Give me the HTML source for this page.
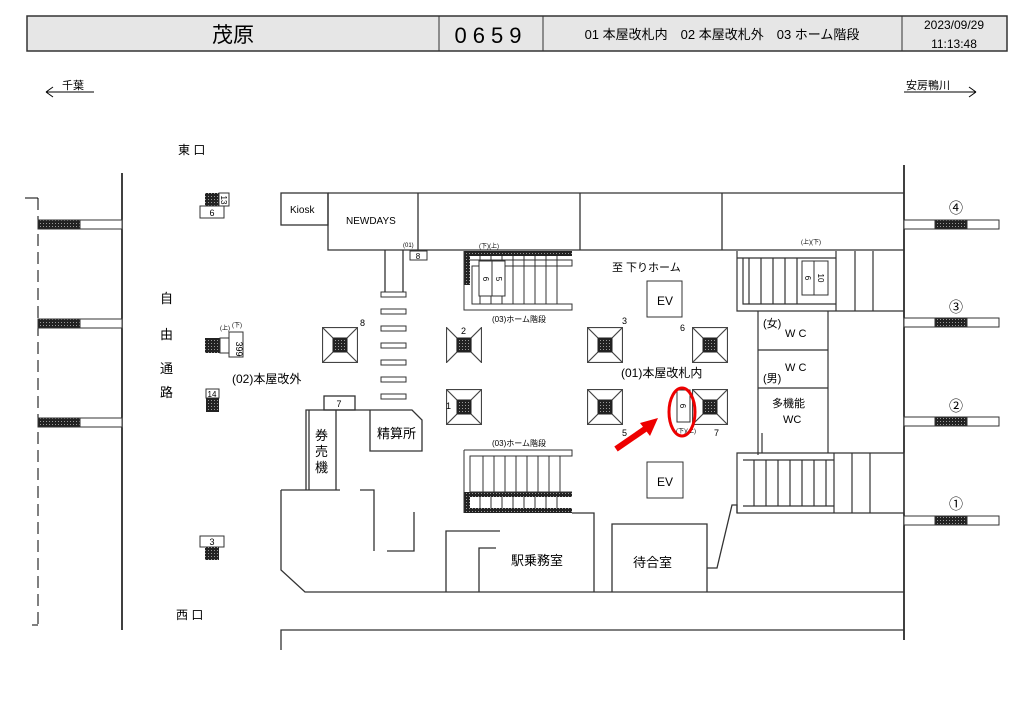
<!DOCTYPE html>
<html><head><meta charset="utf-8"><style>
body{margin:0;background:#fff;}
svg{display:block;font-family:"Liberation Sans","Noto Sans CJK JP",sans-serif;}
</style></head><body>
<svg width="1024" height="724" viewBox="0 0 1024 724" xmlns="http://www.w3.org/2000/svg">
<defs>
<pattern id="dk" width="3" height="3" patternUnits="userSpaceOnUse"><rect width="3" height="3" fill="#222"/><rect x="1" y="1" width="1" height="1" fill="#999"/></pattern>
<symbol id="esc" viewBox="0 0 36 36"><rect x="0.5" y="0.5" width="35" height="35" fill="#fff" stroke="#444" stroke-width="1.2"/><path d="M0.5 0.5L11 11M35.5 0.5L25 11M0.5 35.5L11 25M35.5 35.5L25 25" stroke="#444" stroke-width="1.2"/><rect x="11" y="11" width="14" height="14" fill="url(#dk)" stroke="#222"/></symbol>
<symbol id="esc2" viewBox="0 0 36 36"><path d="M0.5 0.5L11 11L11 25L0.5 35.5ZM35.5 0.5L25 11L25 25L35.5 35.5Z" fill="#fff" stroke="#444" stroke-width="1.2"/><rect x="11" y="11" width="14" height="14" fill="url(#dk)" stroke="#222"/></symbol>
</defs>
<!-- header -->
<rect x="27" y="16" width="980" height="35" fill="#e6e6e6" stroke="#333" stroke-width="1.5"/>
<path d="M439 16V51M543 16V51M902 16V51" stroke="#333" stroke-width="1"/>
<text x="233" y="42" font-size="21" text-anchor="middle">茂原</text>
<text x="491" y="43" font-size="22" text-anchor="middle" letter-spacing="6">0659</text>
<text x="722" y="39" font-size="13" text-anchor="middle">01 本屋改札内　02 本屋改札外　03 ホーム階段</text>
<text x="954" y="29" font-size="12" text-anchor="middle">2023/09/29</text>
<text x="954" y="48" font-size="12" text-anchor="middle">11:13:48</text>
<!-- direction -->
<text x="62" y="89" font-size="11">千葉</text>
<path d="M46 92H94M46 92l7 -5M46 92l7 5" stroke="#000" fill="none"/>
<text x="906" y="89" font-size="11">安房鴨川</text>
<path d="M904 92H976M976 92l-7 -5M976 92l-7 5" stroke="#000" fill="none"/>
<text x="178" y="154" font-size="12">東 口</text>
<text x="176" y="619" font-size="12">西 口</text>
<!-- left platforms -->
<path d="M25 198H38" stroke="#000"/>
<path d="M38 198V625" stroke="#000" stroke-dasharray="12,6"/>
<path d="M38 625H32" stroke="#000"/>
<path d="M122 173V630" stroke="#000" stroke-width="1.5"/>
<g stroke="#333">
<rect x="38" y="220" width="84" height="9" fill="#fff"/><rect x="38" y="220" width="42" height="9" fill="url(#dk)"/>
<rect x="38" y="319" width="84" height="9" fill="#fff"/><rect x="38" y="319" width="42" height="9" fill="url(#dk)"/>
<rect x="38" y="418" width="84" height="9" fill="#fff"/><rect x="38" y="418" width="42" height="9" fill="url(#dk)"/>
</g>
<!-- right platforms -->
<path d="M904 165V640" stroke="#000" stroke-width="1.5"/>
<g stroke="#333" font-size="13">
<rect x="904" y="220" width="95" height="9" fill="#fff"/><rect x="935" y="220" width="32" height="9" fill="url(#dk)"/>
<rect x="904" y="318" width="95" height="9" fill="#fff"/><rect x="935" y="318" width="32" height="9" fill="url(#dk)"/>
<rect x="904" y="417" width="95" height="9" fill="#fff"/><rect x="935" y="417" width="32" height="9" fill="url(#dk)"/>
<rect x="904" y="516" width="95" height="9" fill="#fff"/><rect x="935" y="516" width="32" height="9" fill="url(#dk)"/>
</g>
<g font-size="14" text-anchor="middle"><text x="956" y="213">④</text><text x="956" y="312">③</text><text x="956" y="411">②</text><text x="956" y="509">①</text></g>
<!-- left free passage items -->
<rect x="205" y="193" width="14" height="13" fill="url(#dk)"/><rect x="219" y="193" width="10" height="13" fill="#fff" stroke="#333"/>
<text x="224" y="203" font-size="8" text-anchor="middle" transform="rotate(90 224 200)">13</text>
<rect x="200" y="206" width="24" height="12" fill="#fff" stroke="#333"/><text x="212" y="216" font-size="9" text-anchor="middle">6</text>
<g font-size="13"><text x="160" y="303">自</text><text x="160" y="339">由</text><text x="160" y="373">通</text><text x="160" y="397">路</text></g>
<rect x="205" y="338" width="15" height="15" fill="url(#dk)"/><rect x="220" y="338" width="9" height="15" fill="#fff" stroke="#333"/>
<rect x="229" y="332" width="14" height="25" fill="#fff" stroke="#333"/>
<text x="240" y="345" font-size="9" text-anchor="middle" transform="rotate(90 236 345)">399</text>
<text x="220" y="330" font-size="6">(上)</text><text x="232" y="327" font-size="6">(下)</text>
<text x="232" y="383" font-size="12">(02)本屋改外</text>
<rect x="206" y="389" width="13" height="9" fill="#fff" stroke="#333"/><text x="212" y="397" font-size="8" text-anchor="middle">14</text>
<rect x="206" y="398" width="13" height="14" fill="url(#dk)"/>
<rect x="200" y="536" width="24" height="11" fill="#fff" stroke="#333"/><text x="212" y="545" font-size="9" text-anchor="middle">3</text>
<rect x="205" y="547" width="14" height="13" fill="url(#dk)"/>
<!-- top boxes -->
<g fill="none" stroke="#333" stroke-width="1.3">
<rect x="281" y="193" width="47" height="32"/>
<path d="M328 193H904M328 193V250H904M418 193V250M580 193V250M722 193V250"/>
<path d="M385 250V292M403 250V292"/>
</g>
<text x="290" y="213" font-size="10">Kiosk</text>
<text x="346" y="224" font-size="10">NEWDAYS</text>
<text x="403" y="247" font-size="6">(01)</text>
<rect x="410" y="251" width="17" height="9" fill="#fff" stroke="#333"/><text x="418" y="259" font-size="8" text-anchor="middle">8</text>
<g fill="#fff" stroke="#333"><rect x="381" y="292" width="25" height="5"/><rect x="381" y="309" width="25" height="5"/><rect x="381" y="326" width="25" height="5"/><rect x="381" y="343" width="25" height="5"/><rect x="381" y="360" width="25" height="5"/><rect x="381" y="377" width="25" height="5"/><rect x="381" y="394" width="25" height="5"/></g>
<!-- upper-left stairs -->
<rect x="464" y="251" width="108" height="5" fill="url(#dk)"/><rect x="464" y="251" width="6" height="34" fill="url(#dk)"/>
<g fill="none" stroke="#333">
<path d="M464 251V310H572V304H472V266H572V260H470"/>
<path d="M480 256V304M491 256V304M502 256V304M513 256V304M524 256V304M535 256V304M546 256V304M557 256V304"/>
</g>
<rect x="479" y="261" width="13" height="35" fill="#fff" stroke="#333"/><rect x="492" y="261" width="13" height="35" fill="#fff" stroke="#333"/>
<text x="486" y="282" font-size="8" text-anchor="middle" transform="rotate(90 486 279)">6</text>
<text x="499" y="282" font-size="8" text-anchor="middle" transform="rotate(90 499 279)">5</text>
<text x="479" y="248" font-size="6">(下)(上)</text>
<text x="492" y="322" font-size="8">(03)ホーム階段</text>
<!-- escalators -->
<use href="#esc" x="322" y="327" width="36" height="36"/>
<use href="#esc2" x="446" y="327" width="36" height="36"/>
<use href="#esc" x="587" y="327" width="36" height="36"/>
<use href="#esc" x="692" y="327" width="36" height="36"/>
<use href="#esc" x="446" y="389" width="36" height="36"/>
<use href="#esc" x="587" y="389" width="36" height="36"/>
<use href="#esc" x="692" y="389" width="36" height="36"/>
<g font-size="9"><text x="360" y="326">8</text><text x="461" y="334">2</text><text x="622" y="324">3</text><text x="680" y="331">6</text><text x="446" y="409">1</text><text x="622" y="436">5</text><text x="714" y="436">7</text></g>
<text x="612" y="271" font-size="11">至 下りホーム</text>
<rect x="647" y="281" width="35" height="36" fill="#fff" stroke="#333"/><text x="665" y="305" font-size="12" text-anchor="middle">EV</text>
<rect x="647" y="462" width="36" height="36" fill="#fff" stroke="#333"/><text x="665" y="486" font-size="12" text-anchor="middle">EV</text>
<text x="621" y="377" font-size="12">(01)本屋改札内</text>
<rect x="677" y="390" width="13" height="32" fill="#fff" stroke="#333"/>
<text x="683" y="409" font-size="8" text-anchor="middle" transform="rotate(90 683 406)">6</text>
<text x="676" y="433" font-size="6">(下)(上)</text>
<ellipse cx="682" cy="412" rx="13" ry="24" fill="none" stroke="#e00" stroke-width="3"/>
<path d="M616 449L648 427" stroke="#e00" stroke-width="6"/><path d="M658 418L640 423L650 436Z" fill="#e00"/>
<!-- right stairs/wc -->
<g fill="none" stroke="#333" stroke-width="1.2">
<path d="M737 251V311H904M737 258H836V304H743V258M836 251V311M855 251V311M873 251V311"/>
<path d="M749 258V304M761 258V304M773 258V304M785 258V304M797 258V304"/>
<path d="M758 311V455M828 311V453M758 350H828M758 388H828M758 332V340"/>
<path d="M737 453H904V513H737ZM743 460H834V506H743M834 453V513M852 453V513M870 453V513"/>
<path d="M754 460V506M766 460V506M778 460V506M790 460V506M802 460V506M814 460V506M826 460V506"/>
<path d="M762 433V453"/>
</g>
<rect x="802" y="261" width="12" height="34" fill="#fff" stroke="#333"/><rect x="814" y="261" width="14" height="34" fill="#fff" stroke="#333"/>
<text x="808" y="281" font-size="8" text-anchor="middle" transform="rotate(90 808 278)">6</text>
<text x="821" y="281" font-size="8" text-anchor="middle" transform="rotate(90 821 278)">10</text>
<text x="801" y="244" font-size="6">(上)(下)</text>
<g font-size="11"><text x="763" y="327">(女)</text><text x="785" y="337">W C</text><text x="785" y="371">W C</text><text x="763" y="382">(男)</text><text x="772" y="407">多機能</text><text x="783" y="423">WC</text></g>
<!-- lower left stairs -->
<rect x="464" y="492" width="108" height="5" fill="url(#dk)"/><rect x="464" y="492" width="6" height="21" fill="url(#dk)"/><rect x="464" y="508" width="108" height="5" fill="url(#dk)"/>
<g fill="none" stroke="#333">
<path d="M464 450H572V456H470V492H572M464 450V513"/>
<path d="M483 456V492M494 456V492M505 456V492M516 456V492M527 456V492M538 456V492M549 456V492M560 456V492"/>
<path d="M480 497V508M491 497V508M502 497V508M513 497V508M524 497V508M535 497V508M546 497V508M557 497V508"/>
</g>
<text x="492" y="446" font-size="8">(03)ホーム階段</text>
<!-- ticket area -->
<g fill="none" stroke="#333" stroke-width="1.3">
<rect x="324" y="396" width="31" height="14" fill="#fff"/>
<path d="M306 490V410H412L422 420V451H370V410M309 410V490M336 410V490"/>
<path d="M572 513H594V592M281 490H340M360 490H374V551M387 551H414V512M281 490V570L305 592H904M446 592V531H500M479 592V548H496M612 592V524H707V592M707 568H717L732 505H737V513"/>
<path d="M281 650V630H904"/>
</g>
<text x="339" y="407" font-size="9" text-anchor="middle">7</text>
<g font-size="13"><text x="315" y="440">券</text><text x="315" y="456">売</text><text x="315" y="472">機</text></g>
<text x="377" y="438" font-size="13">精算所</text>
<text x="511" y="565" font-size="13">駅乗務室</text>
<text x="633" y="567" font-size="13">待合室</text>
</svg>
</body></html>
